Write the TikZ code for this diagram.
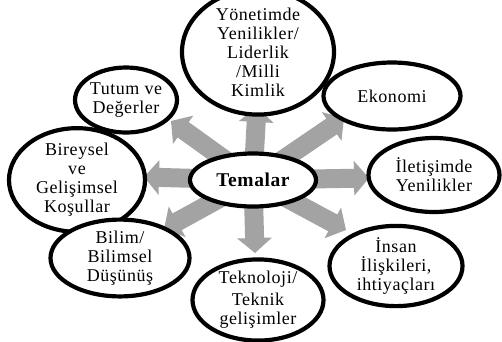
\documentclass[tikz,border=0pt]{standalone}
\usepackage{fontspec}
\setmainfont{Liberation Serif}[LetterSpace=3]
\usetikzlibrary{shapes.geometric,arrows.meta,shadows}
\definecolor{arrowgray}{HTML}{A3A3A3}
\begin{document}
\begin{tikzpicture}[x=1pt,y=-1pt,
  theme/.style={ellipse,draw=black,line width=4.2pt,fill=white,align=center,
    inner sep=0pt,font=\fontsize{18}{19}\selectfont,
    drop shadow={shadow xshift=1.5pt,shadow yshift=-1.5pt,opacity=0.35}},
  blockarrow/.style={draw=arrowgray,line width=19pt,
    -{Triangle[width=34pt,length=15pt]}}]
\useasboundingbox (0,0) rectangle (502,341);
\coordinate (c) at (253,180);
\coordinate (tTop) at (257,107);
\coordinate (tTL) at (171,121);
\coordinate (tTR) at (344,118);
\coordinate (tL) at (144,177);
\coordinate (tR) at (369,178);
\coordinate (tBL) at (164,229);
\coordinate (tB) at (255,253);
\coordinate (tBR) at (346,230);
\foreach \t in {tTop,tTL,tTR,tL,tR,tBL,tB,tBR}
  \draw[blockarrow] (c) -- (\t);
\node[theme,minimum width=126pt,minimum height=53pt,font=\fontsize{19.5}{20}\selectfont\bfseries] (center) at (253,180) {Temalar};
\node[theme,minimum width=152pt,minimum height=96pt] (top) at (258,52) {Yönetimde\\Yenilikler/\\Liderlik\\/Milli\\Kimlik};
\node[theme,minimum width=96pt,minimum height=65pt] (tutum) at (126,100) {Tutum ve\\Değerler};
\node[theme,minimum width=137pt,minimum height=67pt] (eko) at (392,96) {Ekonomi};
\node[theme,minimum width=136pt,minimum height=72pt] (birey) at (77,180) {Bireysel\\ve\\Gelişimsel\\Koşullar};
\node[theme,minimum width=131pt,minimum height=74pt] (ilet) at (434,175) {İletişimde\\Yenilikler};
\node[theme,minimum width=139pt,minimum height=71pt] (bilim) at (120,258) {Bilim/\\Bilimsel\\Düşünüş};
\node[theme,minimum width=131pt,minimum height=74pt] (tek) at (258,300) {Teknoloji/\\[3pt]Teknik\\gelişimler};
\node[theme,minimum width=133pt,minimum height=76pt] (insan) at (396,266) {İnsan\\İlişkileri,\\ihtiyaçları};
\end{tikzpicture}
\end{document}
